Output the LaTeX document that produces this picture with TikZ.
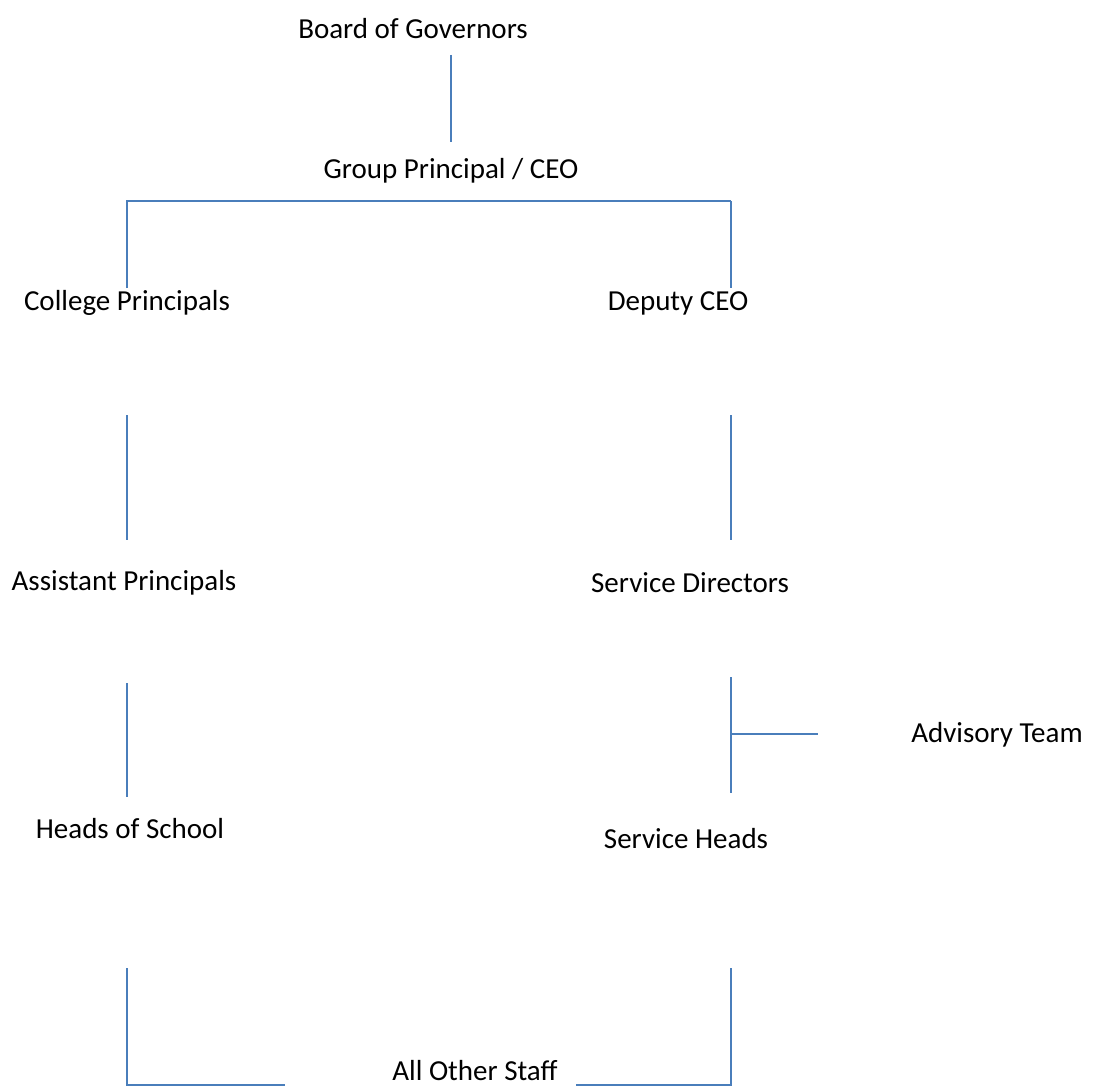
\documentclass[tikz,border=0pt]{standalone}
\usepackage{fontspec}
\setmainfont{Carlito}
\definecolor{lineblue}{HTML}{4A7EBB}
\begin{document}
\begin{tikzpicture}[x=1pt,y=-1pt,
  lbl/.style={inner sep=0pt,font=\fontsize{29}{34}\selectfont,text=black},
  thick line/.style={draw=lineblue,line width=2.6pt},
  thin line/.style={draw=lineblue,line width=1.6pt}]
\useasboundingbox[fill=white] (0,0) rectangle (1094,1089);
\node[lbl] (bog) at (413,29) {Board of Governors};
\node[lbl] (gp) at (451,171) {Group Principal / CEO};
\node[lbl] (cp) at (127,303) {College Principals};
\node[lbl] (dc) at (678,303) {Deputy CEO};
\node[lbl] (ap) at (124,583) {Assistant Principals};
\node[lbl] (sd) at (690,583) {Service Directors};
\node[lbl] (at) at (997,735) {Advisory Team};
\node[lbl] (hs) at (130,829) {Heads of School};
\node[lbl] (sh) at (686,839) {Service Heads};
\node[lbl] (aos) at (475,1071) {All Other Staff};
% connector end points
\coordinate (a1) at (451,55);  \coordinate (a2) at (451,142);
\coordinate (b1) at (127,288); \coordinate (b2) at (127,201);
\coordinate (b3) at (731,201); \coordinate (b4) at (731,288);
\coordinate (c1) at (127,415); \coordinate (c2) at (127,540);
\coordinate (d1) at (731,415); \coordinate (d2) at (731,540);
\coordinate (e1) at (127,683); \coordinate (e2) at (127,797);
\coordinate (f1) at (731,677); \coordinate (f2) at (731,793);
\coordinate (f3) at (731,734); \coordinate (f4) at (818,734);
\coordinate (g1) at (127,968); \coordinate (g2) at (127,1085); \coordinate (g3) at (285,1085);
\coordinate (h1) at (731,968); \coordinate (h2) at (731,1085); \coordinate (h3) at (576,1085);
\draw[thin line] (a1) -- (a2);
\draw[thick line] (b1) -- (b2) -- (b3);
\draw[thin line] (b3) -- (b4);
\draw[thick line] (c1) -- (c2);
\draw[thin line] (d1) -- (d2);
\draw[thick line] (e1) -- (e2);
\draw[thin line] (f1) -- (f2);
\draw[thin line] (f3) -- (f4);
\draw[thick line] (g1) -- (g2) -- (g3);
\draw[thin line] (h1) -- (h2) -- (h3);
\end{tikzpicture}
\end{document}
